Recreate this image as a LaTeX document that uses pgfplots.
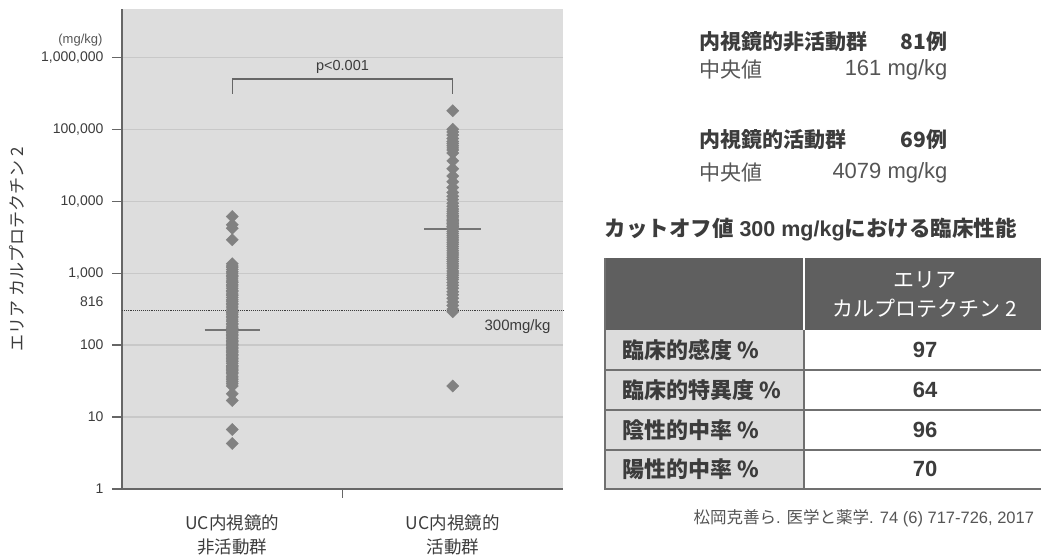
\documentclass[border=0pt]{standalone}
\usepackage{pgfplots}
\pgfplotsset{compat=1.18}
\usepackage{fontspec}
\setmainfont{Liberation Sans}
\newfontfamily\jp{Noto Sans CJK JP}
\definecolor{bg}{HTML}{DDDDDD}
\definecolor{gridc}{HTML}{C8C8C8}
\definecolor{axc}{HTML}{666666}
\definecolor{mk}{HTML}{818181}
\definecolor{txt}{HTML}{3C3C3C}
\definecolor{txt2}{HTML}{555555}
\definecolor{hdr}{HTML}{5F5F5F}
\definecolor{cell}{HTML}{DCDCDC}
\definecolor{tline}{HTML}{707070}
\begin{document}
\begin{tikzpicture}[x=1pt,y=1pt]
\path[use as bounding box] (0,0) rectangle (1041,557);
\begin{axis}[
  at={(122pt,68pt)}, anchor=south west,
  scale only axis, width=441pt, height=480pt,
  xmin=0.5, xmax=2.5,
  ymode=log, ymin=1, ymax=4.68e6,
  axis background/.style={fill=bg},
  axis x line*=bottom, axis y line*=left,
  axis line style={-, draw=axc, line width=1.3pt},
  xtick={1,2},
  xticklabels={{UC内視鏡的\\非活動群},{UC内視鏡的\\活動群}},
  x tick style={draw=none},
  x tick label style={align=center, font=\jp\fontsize{17.5}{24.5}\selectfont, text=txt, yshift=-12pt},
  ytick={1,10,100,1000,10000,100000,1000000},
  yticklabels={1,10,100,{1,000},{10,000},{100,000},{1,000,000}},
  yminorticks=false,
  y tick style={draw=axc, line width=1.2pt},
  tick align=outside, major tick length=10pt,
  y tick label style={font=\fontsize{14}{15}\selectfont, text=txt, xshift=-5pt},
  ymajorgrids, grid style={draw=gridc, line width=1.2pt},
  ylabel={\jp エリア カルプロテクチン 2},
  every axis y label/.style={at={(axis description cs:-0.238,0.5)}, rotate=90, anchor=center, font=\fontsize{17}{20}\selectfont, text=txt},
  clip=false,
]
% threshold line
\addplot[draw=txt, densely dotted, line width=0.9pt, forget plot] coordinates {(0.5,300) (2.5,300)};
% non-active group (81)
\addplot[only marks, mark=square*, mark size=4.3pt, mark options={rotate=45, fill=mk, draw=mk}] coordinates {
(1,6100)(1,4700)(1,4200)(1,2900)
(1,1349)(1,1259)(1,1202)(1,1122)(1,1047)(1,1000)(1,933)(1,891)(1,832)(1,776)
(1,741)(1,692)(1,661)(1,617)(1,575)(1,550)(1,513)(1,490)(1,457)(1,427)
(1,407)(1,380)(1,363)(1,339)(1,316)(1,295)(1,282)(1,269)(1,251)(1,240)
(1,224)(1,214)(1,200)(1,191)(1,178)(1,170)
(1,161)
(1,155)(1,148)(1,141)(1,135)(1,129)(1,123)(1,117)(1,112)(1,107)(1,102)
(1,98)(1,93)(1,89)(1,85)(1,81)(1,78)(1,74)(1,71)(1,68)(1,65)
(1,62)(1,59)(1,56)(1,52)(1,50)(1,48)(1,46)(1,44)(1,42)(1,40)
(1,37)(1,35)(1,33)(1,31)(1,29)(1,27)
(1,21)(1,17)(1,6.7)(1,4.3)
};
% active group (69)
\addplot[only marks, mark=square*, mark size=4.3pt, mark options={rotate=45, fill=mk, draw=mk}] coordinates {
(2,180000)
(2,100000)(2,91200)(2,83200)(2,74100)(2,67600)(2,63100)(2,58900)(2,55000)(2,51300)(2,46800)
(2,36300)(2,28200)(2,22400)(2,18600)(2,15500)(2,13200)(2,11700)(2,10500)(2,9330)(2,8510)
(2,7760)(2,7240)(2,6760)(2,6310)(2,6030)(2,5620)(2,5370)(2,5130)(2,4900)(2,4680)
(2,4470)(2,4370)(2,4170)
(2,4079)
(2,3800)(2,3550)(2,3310)(2,3090)(2,2880)(2,2690)(2,2510)(2,2340)(2,2190)(2,2040)
(2,1910)(2,1780)(2,1660)(2,1550)(2,1450)(2,1350)(2,1260)(2,1170)(2,1070)(2,1000)
(2,933)(2,871)(2,813)(2,741)(2,676)(2,617)(2,550)(2,501)(2,447)(2,398)
(2,355)(2,316)
(2,290)(2,27)
};
% medians
\addplot[draw=mk!90!black, line width=1.4pt] coordinates {(0.875,161) (1.125,161)};
\addplot[draw=mk!90!black, line width=1.4pt] coordinates {(1.87,4079) (2.13,4079)};
% bracket
\draw[draw=axc, line width=1.3pt] (axis cs:1,310000) -- (axis cs:1,500000) -- (axis cs:2,500000) -- (axis cs:2,310000);
\node[font=\fontsize{14.5}{16}\selectfont, text=txt] at (axis cs:1.5,740000) {p<0.001};
\node[font=\fontsize{15}{17}\selectfont, text=txt, anchor=east] at (axis cs:2.5,180) [xshift=-9pt] {300mg/kg};
\node[font=\fontsize{14}{15}\selectfont, text=txt, anchor=east] at (axis cs:0.5,404) [xshift=-15pt] {816};
% x tick at middle
\draw[draw=axc, line width=1.2pt] (axis cs:1.5,1) -- ([yshift=-9pt]axis cs:1.5,1);
\end{axis}
% unit label
\node[font=\fontsize{13}{15}\selectfont, text=txt2, anchor=east] at (106,517) {(mg/kg)};
% right side texts
\node[anchor=west, text=txt, font=\jp\bfseries\fontsize{21}{24}\selectfont] at (696,515) {内視鏡的非活動群};
\node[anchor=east, text=txt, font=\jp\bfseries\fontsize{21}{24}\selectfont] at (951,515) {81例};
\node[anchor=west, text=txt2, font=\jp\fontsize{21}{24}\selectfont] at (696,487) {中央値};
\node[anchor=east, text=txt2, font=\fontsize{22}{24}\selectfont] at (951,487) {161 mg/kg};
\node[anchor=west, text=txt, font=\jp\bfseries\fontsize{21}{24}\selectfont] at (696,417) {内視鏡的活動群};
\node[anchor=east, text=txt, font=\jp\bfseries\fontsize{21}{24}\selectfont] at (951,417) {69例};
\node[anchor=west, text=txt2, font=\jp\fontsize{21}{24}\selectfont] at (696,384) {中央値};
\node[anchor=east, text=txt2, font=\fontsize{22}{24}\selectfont] at (951,384) {4079 mg/kg};
\node[anchor=west, text=txt, font=\bfseries\fontsize{21.5}{24}\selectfont] at (601,327) {{\jp\bfseries カットオフ値} 300 mg/kg{\jp\bfseries における臨床性能}};
% table
\fill[hdr] (605,299) rectangle (1045,227);
\fill[cell] (605,227) rectangle (804,68);
\draw[white, line width=1.5pt] (804,299) -- (804,227);
\draw[tline, line width=1.6pt] (605,299) -- (605,68) -- (1045,68);
\draw[tline, line width=1.6pt] (605,187) -- (1045,187);
\draw[tline, line width=1.6pt] (605,147) -- (1045,147);
\draw[tline, line width=1.6pt] (605,107) -- (1045,107);
\draw[tline, line width=1.6pt] (804,227) -- (804,68);
\node[text=white, font=\jp\fontsize{21}{24}\selectfont] at (925,277) {エリア};
\node[text=white, font=\jp\fontsize{21}{24}\selectfont] at (925,249) {カルプロテクチン 2};
\node[anchor=west, text=txt, font=\jp\bfseries\fontsize{22}{24}\selectfont] at (619,207) {臨床的感度 \%};
\node[anchor=west, text=txt, font=\jp\bfseries\fontsize{22}{24}\selectfont] at (619,167) {臨床的特異度 \%};
\node[anchor=west, text=txt, font=\jp\bfseries\fontsize{22}{24}\selectfont] at (619,127) {陰性的中率 \%};
\node[anchor=west, text=txt, font=\jp\bfseries\fontsize{22}{24}\selectfont] at (619,88) {陽性的中率 \%};
\node[text=txt, font=\bfseries\fontsize{22}{24}\selectfont] at (925,207) {97};
\node[text=txt, font=\bfseries\fontsize{22}{24}\selectfont] at (925,167) {64};
\node[text=txt, font=\bfseries\fontsize{22}{24}\selectfont] at (925,127) {96};
\node[text=txt, font=\bfseries\fontsize{22}{24}\selectfont] at (925,88) {70};
\node[anchor=west, text=txt2, font=\fontsize{16.5}{18}\selectfont] at (690,39) {{\jp 松岡克善ら}. {\jp 医学と薬学}. 74 (6) 717-726, 2017};
\end{tikzpicture}
\end{document}
